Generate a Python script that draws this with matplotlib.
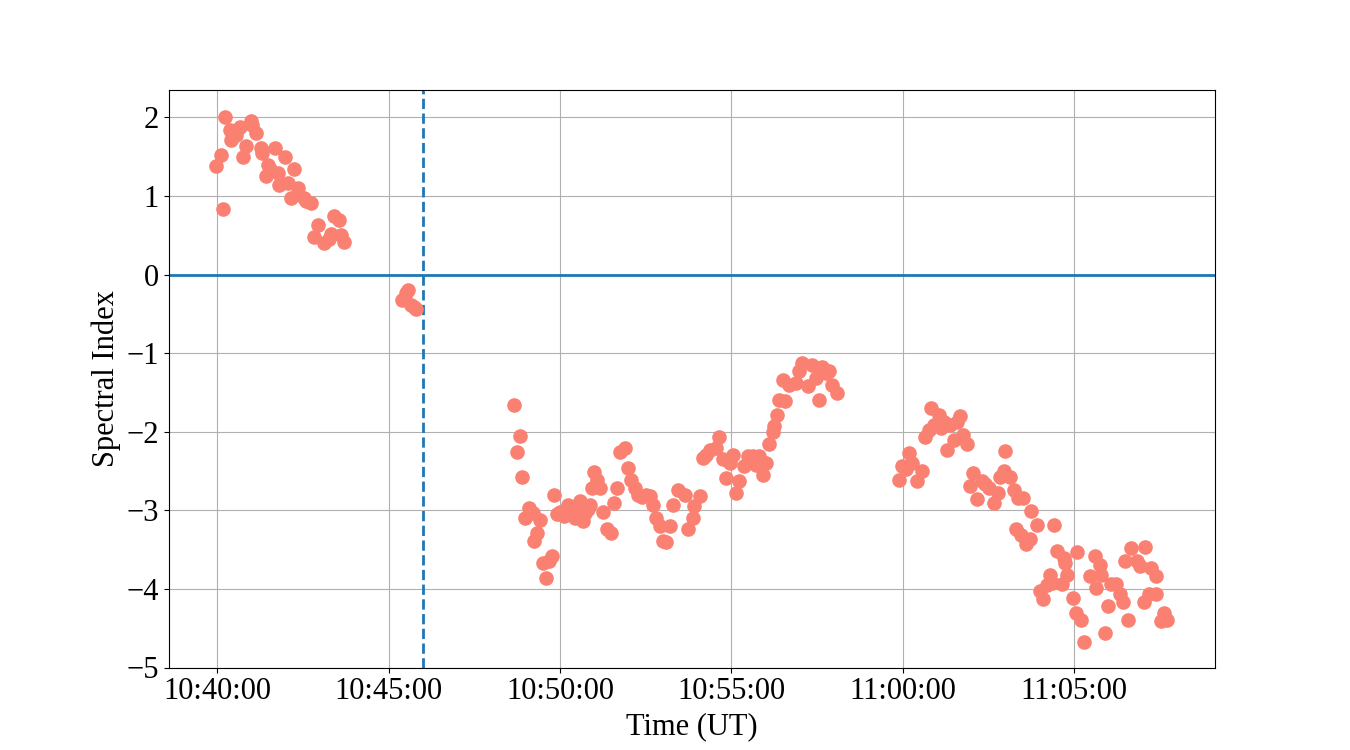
import pandas as pd
import matplotlib
matplotlib.use('Agg')
from matplotlib import pyplot as plt
import matplotlib.dates as mdates

# minutes after 10:40:00 UT and spectral index
minutes = [-0.03, 0.10, 0.17, 0.21, 0.36, 0.41, 0.55, 0.65, 0.75, 0.84, 0.99, 1.00,
           1.13, 1.28, 1.30, 1.42, 1.47, 1.55, 1.67, 1.76, 1.80, 1.96, 2.05, 2.15,
           2.25, 2.35, 2.54, 2.60, 2.73, 2.83, 2.93, 3.12, 3.25, 3.31, 3.41, 3.55,
           3.60, 3.70,
           5.40, 5.49, 5.55, 5.64, 5.74, 5.80,
           8.66, 8.74, 8.84, 8.90, 8.98, 9.08, 9.22, 9.25, 9.32, 9.42, 9.51, 9.59,
           9.68, 9.76, 9.81, 9.90, 10.00, 10.10, 10.24, 10.39, 10.44, 10.58, 10.68,
           10.73, 10.80, 10.87, 10.92, 10.99, 11.07, 11.16, 11.26, 11.36, 11.50,
           11.57, 11.65, 11.74, 11.89, 11.99, 12.08, 12.18, 12.28, 12.40, 12.52,
           12.62, 12.71, 12.81, 12.91, 13.00, 13.10, 13.20, 13.30, 13.44, 13.63,
           13.73, 13.87, 13.92, 14.07, 14.17, 14.26, 14.36, 14.56, 14.65, 14.75,
           14.85, 14.95, 15.04, 15.14, 15.23, 15.38, 15.47, 15.62, 15.71, 15.81,
           15.91, 16.01, 16.10, 16.20, 16.25, 16.32, 16.40, 16.49, 16.57, 16.69,
           16.88, 16.98, 17.07, 17.22, 17.36, 17.46, 17.56, 17.65, 17.75, 17.85,
           17.94, 18.09,
           19.88, 19.98, 20.08, 20.17, 20.27, 20.42, 20.56, 20.66, 20.75, 20.81,
           20.90, 21.05, 21.10, 21.20, 21.29, 21.39, 21.48, 21.58, 21.68, 21.75,
           21.87, 21.97, 22.06, 22.16, 22.31, 22.40, 22.50, 22.65, 22.79, 22.84,
           22.94, 22.97, 23.13, 23.23, 23.29, 23.37, 23.45, 23.52, 23.58, 23.72,
           23.75, 23.90, 24.00, 24.10, 24.20, 24.29, 24.34, 24.40, 24.50, 24.63,
           24.69, 24.74, 24.80, 24.97, 25.06, 25.08, 25.20, 25.30, 25.45, 25.60,
           25.65, 25.74, 25.79, 25.89, 25.99, 26.08, 26.23, 26.33, 26.42, 26.47,
           26.57, 26.67, 26.82, 26.91, 27.03, 27.06, 27.18, 27.25, 27.38, 27.40,
           27.53, 27.62, 27.72]

index = [1.38, 1.52, 0.84, 2.00, 1.84, 1.71, 1.78, 1.88, 1.50, 1.64, 1.96, 1.90,
         1.80, 1.61, 1.55, 1.25, 1.39, 1.35, 1.61, 1.29, 1.14, 1.50, 1.16, 0.97,
         1.34, 1.10, 0.97, 0.94, 0.91, 0.48, 0.63, 0.40, 0.45, 0.52, 0.74, 0.70,
         0.50, 0.42,
         -0.32, -0.24, -0.19, -0.39, -0.41, -0.44,
         -1.66, -2.26, -2.05, -2.57, -3.10, -2.97, -3.03, -3.39, -3.29, -3.12, -3.67, -3.86,
         -3.65, -3.58, -2.80, -3.05, -3.02, -3.07, -2.93, -3.01, -3.10, -2.88, -3.14,
         -3.03, -2.98, -2.93, -2.72, -2.51, -2.61, -2.71, -3.02, -3.24, -3.29,
         -2.91, -2.71, -2.26, -2.21, -2.46, -2.61, -2.72, -2.80, -2.83, -2.80,
         -2.82, -2.93, -3.10, -3.20, -3.39, -3.40, -3.20, -2.93, -2.74, -2.80,
         -3.24, -3.10, -2.95, -2.82, -2.33, -2.30, -2.23, -2.21, -2.06, -2.35,
         -2.59, -2.40, -2.29, -2.78, -2.63, -2.44, -2.31, -2.31, -2.42, -2.31,
         -2.55, -2.40, -2.16, -2.00, -1.93, -1.78, -1.59, -1.34, -1.61, -1.40,
         -1.38, -1.23, -1.13, -1.42, -1.15, -1.32, -1.59, -1.17, -1.25, -1.22,
         -1.40, -1.51,
         -2.61, -2.44, -2.47, -2.27, -2.40, -2.63, -2.50, -2.06, -1.98, -1.70,
         -1.91, -1.78, -1.95, -1.87, -2.23, -1.91, -2.10, -1.88, -1.80, -2.04,
         -2.16, -2.69, -2.52, -2.86, -2.63, -2.66, -2.72, -2.91, -2.78, -2.57,
         -2.50, -2.25, -2.57, -2.74, -3.24, -2.84, -3.31, -2.84, -3.43, -3.37,
         -3.01, -3.19, -4.03, -4.13, -3.95, -3.82, -3.92, -3.19, -3.52, -3.94,
         -3.60, -3.67, -3.82, -4.11, -4.30, -3.53, -4.39, -4.68, -3.84, -3.58,
         -3.99, -3.69, -3.82, -4.56, -4.22, -3.94, -3.94, -4.07, -4.17, -3.65,
         -4.40, -3.48, -3.65, -3.71, -4.16, -3.46, -4.07, -3.73, -4.07, -3.84,
         -4.41, -4.30, -4.40]

start = pd.Timestamp('2017-09-10 10:40:00')
times = start + pd.to_timedelta(minutes, unit='m')
event = start + pd.Timedelta(minutes=6)

plt.rcParams['font.family'] = ['Liberation Serif', 'DejaVu Serif']
plt.rcParams['font.size'] = 22

fig, ax = plt.subplots(figsize=(13.5, 7.5), dpi=100)
ax.plot(times, index, 'o', color='salmon', markersize=9.5, zorder=3)
ax.axhline(0, color='C0', lw=2)
ax.axvline(event, color='C0', lw=2, ls='--')

ax.set_ylim(-5, 2.35)
ax.xaxis.set_major_locator(mdates.MinuteLocator(byminute=range(0, 60, 5)))
ax.xaxis.set_major_formatter(mdates.DateFormatter('%H:%M:%S'))
ax.grid(True)
ax.set_xlabel('Time (UT)')
ax.set_ylabel('Spectral Index')

fig.savefig('out.png')
